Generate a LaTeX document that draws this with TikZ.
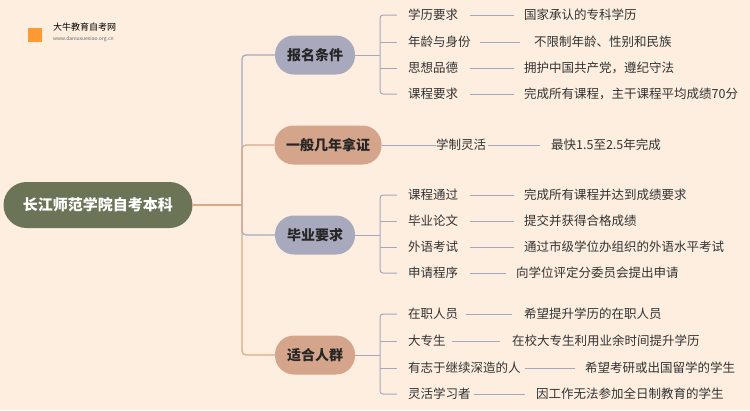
\documentclass[tikz,border=0pt]{standalone}
\usepackage{fontspec}
\setmainfont{Noto Sans CJK SC}
\definecolor{bg}{HTML}{FDEEE0}
\definecolor{rootc}{HTML}{6B7457}
\definecolor{gr}{HTML}{A8A9BD}
\definecolor{pe}{HTML}{D4A58A}
\definecolor{lg}{HTML}{A3A8C0}
\definecolor{lp}{HTML}{D9A98A}
\begin{document}
\begin{tikzpicture}[x=1pt,y=-1pt,
 br/.style={rounded corners=19pt,minimum height=39pt,font=\fontsize{14}{16}\selectfont\bfseries,text=black!85},
 leaf/.style={anchor=west,font=\fontsize{12.5}{14}\selectfont,text=black!80,inner sep=0pt},
 cl/.style={line width=1.2pt},
 ll/.style={line width=1pt,draw=lg}]
\fill[bg] (0,0) rectangle (750,410);
\useasboundingbox (0,0) rectangle (750,410);
% logo
\fill[orange!80] (28,28) rectangle (42,42);
\node[anchor=west,font=\fontsize{9}{10}\selectfont,inner sep=0] (lg1) at (53,27) {大牛教育自考网};
\node[anchor=west,font=\fontsize{5}{6}\selectfont,text=black!60,inner sep=0] (lg2) at (53,39) {www.daniuxuexiao.org.cn};
% root
\node[fill=rootc,text=white,rounded corners=23pt,minimum width=189pt,minimum height=46pt,font=\fontsize{15}{17}\selectfont\bfseries] (root) at (98,205) {长江师范学院自考本科};
\node[br,fill=gr,minimum width=80pt] (b1) at (315,55) {报名条件};
\node[br,fill=pe,minimum width=107pt] (b2) at (328,145) {一般几年拿证};
\node[br,fill=gr,minimum width=80pt] (b3) at (315,235) {毕业要求};
\node[br,fill=pe,minimum width=80pt] (b4) at (315,355) {适合人群};
\draw[cl,draw=lp] (root.east) -- (242,205);
\draw[cl,draw=lg,rounded corners=4pt] (242,205) |- (b1.west);
\draw[cl,draw=lp,rounded corners=4pt] (242,205) |- (b2.west);
\draw[cl,draw=lg,rounded corners=4pt] (242,205) |- (b3.west);
\draw[cl,draw=lp,rounded corners=4pt] (242,205) |- (b4.west);
% leaves helper
\newcommand\leafrow[7]{%
 \node[leaf] (#1k) at (408,#2) {#3};
 \draw[ll] (#4,#2) -- (#5,#2);
 \node[leaf] (#1v) at (#6,#2) {#7};}
\leafrow{a1}{15}{学历要求}{470}{514}{524}{国家承认的专科学历}
\leafrow{a2}{42}{年龄与身份}{480}{520}{534}{不限制年龄、性别和民族}
\leafrow{a3}{68}{思想品德}{470}{514}{524}{拥护中国共产党，遵纪守法}
\leafrow{a4}{94}{课程要求}{470}{514}{524}{完成所有课程，主干课程平均成绩70分}
\node[leaf] (c1k) at (436,145) {学制灵活};
\draw[ll] (488,145) -- (540,145);
\node[leaf] (c1v) at (551,145) {最快1.5至2.5年完成};
\draw[ll] (b2.east) -- (c1k.west);
\leafrow{d1}{195}{课程通过}{470}{514}{524}{完成所有课程并达到成绩要求}
\leafrow{d2}{221}{毕业论文}{470}{514}{524}{提交并获得合格成绩}
\leafrow{d3}{247}{外语考试}{470}{514}{524}{通过市级学位办组织的外语水平考试}
\leafrow{d4}{273}{申请程序}{470}{506}{516}{向学位评定分委员会提出申请}
\leafrow{e1}{314}{在职人员}{466}{512}{524}{希望提升学历的在职人员}
\leafrow{e2}{341}{大专生}{452}{500}{512}{在校大专生利用业余时间提升学历}
\leafrow{e3}{368}{有志于继续深造的人}{525}{575}{585}{希望考研或出国留学的学生}
\leafrow{e4}{394}{灵活学习者}{474}{525}{536}{因工作无法参加全日制教育的学生}
% brackets
\foreach \b/\p in {b1/a, b3/d, b4/e}{
 \draw[ll] (\b.east) -- (380,0 |- \b.east);
 \draw[ll,rounded corners=3pt] (397,0 |- \p1k.west) -| (380,0 |- \p4k.west) -- (397,0 |- \p4k.west);
 \draw[ll] (380,0 |- \p2k.west) -- (397,0 |- \p2k.west);
 \draw[ll] (380,0 |- \p3k.west) -- (397,0 |- \p3k.west);
}
\end{tikzpicture}
\end{document}
